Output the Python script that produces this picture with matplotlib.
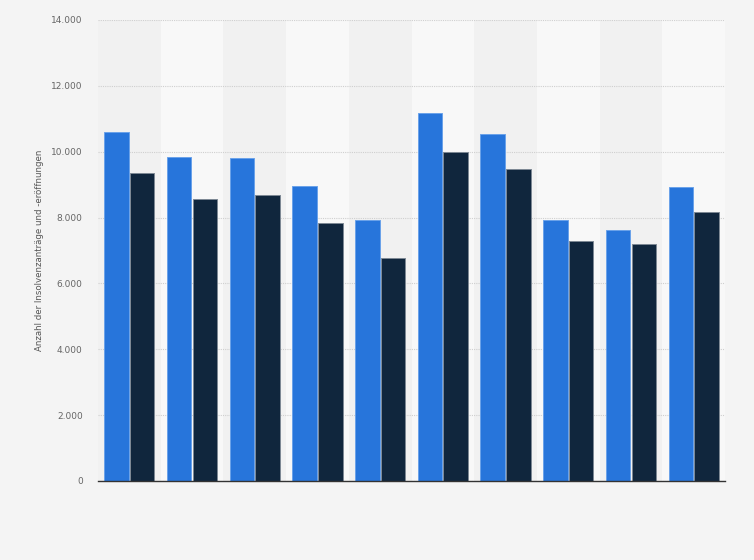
#!/usr/bin/env python3
"""Grouped bars: Insolvenzanträge und -eröffnungen (no category labels shown)."""

import matplotlib.pyplot as plt
import numpy as np
from matplotlib.ticker import FuncFormatter

CATEGORIES = ["", "", "", "", "", "", "", "", "", ""]
ANTRAEGE = [10600, 9840, 9810, 8950, 7930, 11170, 10530, 7920, 7620, 8930]
ERÖFFNUNGEN = [9350, 8560, 8680, 7830, 6770, 9990, 9470, 7280, 7190, 8160]

BLUE = "#2775db"
DARK = "#10263d"


def de_fmt(v, _pos):
    return f"{int(v):,}".replace(",", ".")


fig = plt.figure(figsize=(7.54, 5.60), dpi=100)
fig.patch.set_facecolor("#f4f4f4")
ax = fig.add_axes([98 / 754, 1 - 481 / 560, 627 / 754, 461 / 560])
ax.set_facecolor("#f4f4f4")

x = np.arange(len(CATEGORIES))
width = 0.39

# alternating column bands
for i in x:
    shade = "#f1f1f1" if i % 2 == 0 else "#f8f8f8"
    ax.axvspan(i - 0.5, i + 0.5, color=shade, zorder=0, lw=0)

ax.bar(x - 0.205, ANTRAEGE, width, color=BLUE, edgecolor="#6aa2ea",
       linewidth=0.7, zorder=3)
ax.bar(x + 0.205, ERÖFFNUNGEN, width, color=DARK, edgecolor="#7d8894",
       linewidth=0.7, zorder=3)

ax.set_xlim(-0.5, len(CATEGORIES) - 0.5)
ax.set_ylim(0, 14000)
ax.set_yticks(np.arange(0, 14001, 2000))
ax.yaxis.set_major_formatter(FuncFormatter(de_fmt))
ax.grid(axis="y", color="#cfcfcf", linestyle=(0, (1, 1)), linewidth=0.8,
        zorder=1)
ax.set_xticks(x)
ax.set_xticklabels(CATEGORIES)
ax.tick_params(axis="x", length=0)
ax.tick_params(axis="y", length=0, labelsize=6.5, labelcolor="#666666", pad=11)

for side in ("top", "right", "left"):
    ax.spines[side].set_visible(False)
ax.spines["bottom"].set_color("#333333")
ax.spines["bottom"].set_linewidth(1.0)
ax.spines["bottom"].set_zorder(4)

ax.set_ylabel("Anzahl der Insolvenzanträge und -eröffnungen", fontsize=6.2,
              color="#555555", labelpad=5)

plt.savefig("out.png", dpi=100, facecolor=fig.get_facecolor())
